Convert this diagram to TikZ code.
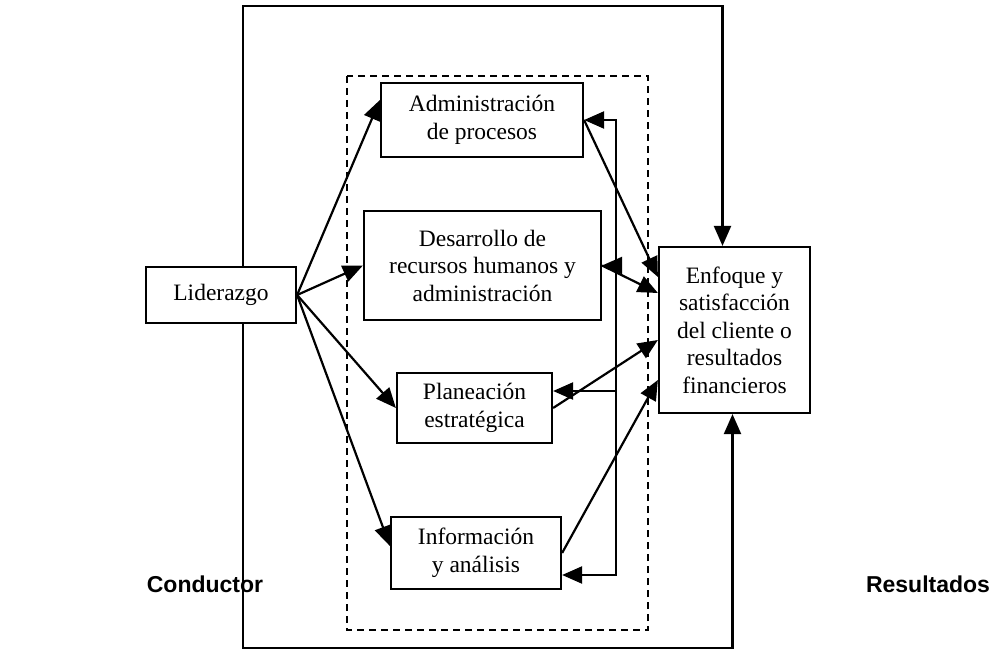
\documentclass[tikz,border=0pt]{standalone}
\usepackage{fontspec}
\setmainfont{Liberation Serif}
\newfontfamily\sidefont{Liberation Sans}
\usetikzlibrary{arrows.meta,calc}

\begin{document}
\begin{tikzpicture}[x=1pt,y=-1pt,
    box/.style={draw, line width=2.2pt, align=center, inner sep=0pt,
      font=\fontsize{23.5}{27.5}\selectfont},
    tri/.style={-{Triangle[length=20pt,width=17pt]}, line width=2.2pt},
    side/.style={font=\sidefont\bfseries\fontsize{23}{27}\selectfont}]
    \useasboundingbox (0,0) rectangle (1002,650);
    \draw [line width=2pt, dash pattern=on 7pt off 5pt] (347,76) rectangle (648,630);
    \node [box, minimum width=150pt, minimum height=56pt] (lid) at (221,295) {Liderazgo};
    \node [box, minimum width=202pt, minimum height=74pt] (admin) at (482,120)
      {Administración\\de procesos};
    \node [box, minimum width=237pt, minimum height=109pt] (desa) at (482.5,265.5)
      {Desarrollo de\\recursos humanos y\\administración};
    \node [box, minimum width=155pt, minimum height=70pt] (plan) at (474.5,408)
      {Planeación\\estratégica};
    \node [box, minimum width=170pt, minimum height=72pt] (info) at (476,553)
      {Información\\y análisis};
    \node [box, minimum width=151pt, minimum height=166pt] (enf) at (734.5,330)
      {Enfoque y\\satisfacción\\del cliente o\\resultados\\financieros};
    \node [side, anchor=base] (cond) at (205,592) {Conductor};
    \node [side, anchor=base] (res) at (928,592) {Resultados};
    % liderazgo hacia los procesos
    \draw [tri] (lid.east) -- ([yshift=20pt]admin.west);
    \draw [tri] (lid.east) -- (desa.west);
    \draw [tri] (lid.east) -- (plan.west);
    \draw [tri] (lid.east) -- ([yshift=7pt]info.west);
    % procesos hacia resultados
    \draw [tri] (admin.east) -- ([yshift=53pt]enf.west);
    \draw [tri] (desa.east) -- ([yshift=37pt]enf.west);
    \draw [tri] (plan.east) -- ([yshift=-10pt]enf.west);
    \draw [tri] (info.east) -- ([yshift=-50pt]enf.west);
    % retroalimentacion
    \coordinate (fb) at (616,0);
    \coordinate (planin) at ([yshift=17pt]plan.east);
    \coordinate (infoin) at ([yshift=-22pt]info.east);
    \draw [tri] (fb |- infoin) |- (admin.east);
    \draw [tri] (fb |- desa.east) -- (desa.east);
    \draw [tri] (fb |- planin) -- (planin);
    \draw [tri] (fb |- planin) |- (infoin);
    % marco exterior
    \coordinate (lidup) at ([xshift=22pt]lid.north);
    \coordinate (liddown) at ([xshift=22pt]lid.south);
    \coordinate (enfin) at ([xshift=-12pt]enf.north);
    \coordinate (enfout) at ([xshift=-2pt]enf.south);
    \draw [tri] (lidup) -- (lidup |- 0,6) -| (enfin);
    \draw [tri] (liddown) -- (liddown |- 0,648) -| (enfout);
\end{tikzpicture}
\end{document}
